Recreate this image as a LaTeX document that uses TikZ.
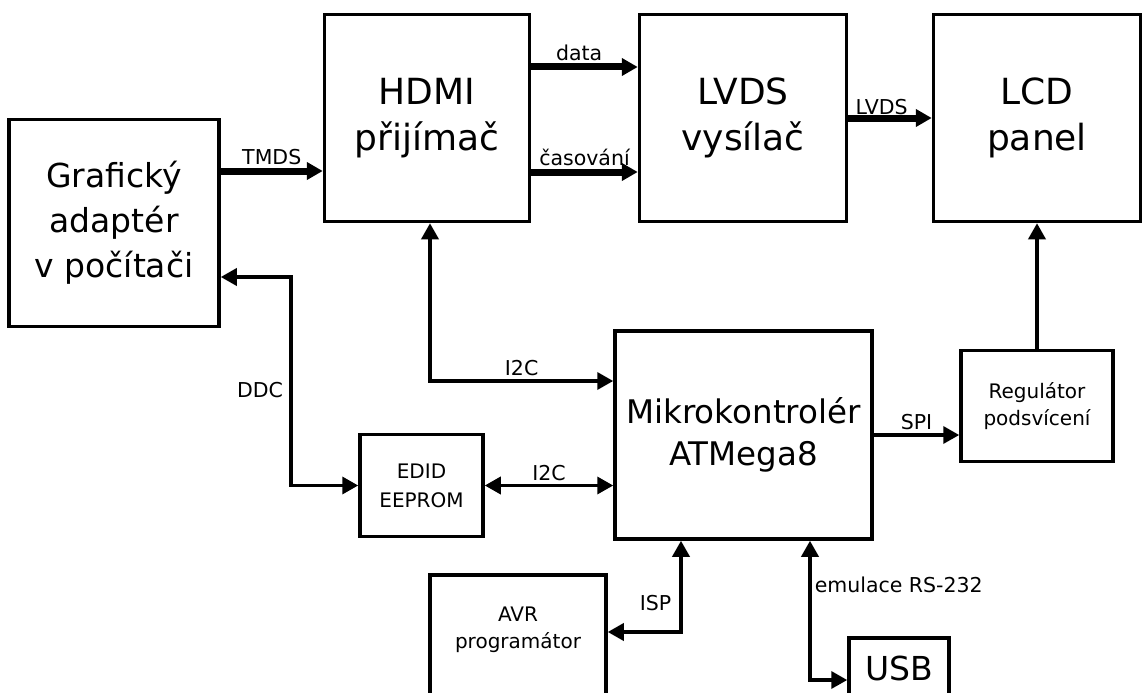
\documentclass[tikz,border=0pt]{standalone}
\usepackage{fontspec}
\setmainfont{DejaVu Sans}
\usetikzlibrary{arrows.meta,positioning}
\tikzset{
  blok/.style={rectangle, draw, line width=3.5pt, inner sep=0pt, align=center},
  velky/.style={font=\fontsize{36pt}{46pt}\selectfont},
  stredni/.style={font=\fontsize{20pt}{27pt}\selectfont},
  popis/.style={font=\fontsize{20.5pt}{24pt}\selectfont, inner sep=3pt},
  sbernice/.style={line width=7pt, ->},
  spoj/.style={line width=3.5pt}
}

\begin{document}
\begin{tikzpicture}[x=1pt, y=-1pt, >={Triangle[length=16pt,width=17pt]}]
  \useasboundingbox (0,0) rectangle (1143,693);

  \node[blok, minimum width=210pt, minimum height=207pt, font=\fontsize{33pt}{45pt}\selectfont]
    (graf) at (114,223) {Grafický\\adaptér\\v počítači};
  \node[blok, velky, minimum width=205pt, minimum height=207pt] (hdmi) at (427,118) {HDMI\\přijímač};
  \node[blok, velky, minimum width=207pt, minimum height=207pt] (lvds) at (743,118) {LVDS\\vysílač};
  \node[blok, velky, minimum width=207pt, minimum height=207pt] (lcd) at (1037,118) {LCD\\panel};
  \node[blok, minimum width=257pt, minimum height=208pt, font=\fontsize{32.5pt}{42pt}\selectfont]
    (mikro) at (743.5,435) {Mikrokontrolér\\ATMega8};
  \node[blok, stredni, minimum width=152pt, minimum height=111pt] (reg) at (1037,406) {Regulátor\\podsvícení};
  \node[blok, minimum width=123pt, minimum height=102pt, font=\fontsize{20pt}{29pt}\selectfont]
    (edid) at (421.5,485.5) {EDID\\EEPROM};
  \node[blok, minimum width=176pt, minimum height=140pt] (avr) at (518,645) {};
  \node[stredni, align=center] (avrtext) at (518,630) {AVR\\programátor};
  \node[blok, minimum width=100pt, minimum height=60pt, font=\fontsize{33pt}{40pt}\selectfont]
    (usb) at (899,668) {USB};

  \draw[sbernice] ([yshift=-53pt]hdmi.west -| graf.east) -- ([yshift=-53pt]hdmi.west)
    node[popis, midway, above] {TMDS};
  \draw[sbernice] ([yshift=51pt]hdmi.east) -- ([yshift=51pt]hdmi.east -| lvds.west)
    node[popis, pos=0.45, above] {data};
  \draw[sbernice] ([yshift=-54pt]hdmi.east) -- ([yshift=-54pt]hdmi.east -| lvds.west)
    node[popis, midway, above] {časování};
  \draw[sbernice] (lvds.east) -- (lcd.west)
    node[popis, pos=0.4, above, inner sep=0pt] {LVDS};

  \draw[spoj, <->] ([xshift=3pt]hdmi.south) |- ([yshift=54pt]mikro.west)
    node[popis, pos=0.75, above] {I2C};
  \draw[spoj, <->] ([yshift=-54pt]graf.east) -- ++(70,0) |- (edid.west)
    node[popis, pos=0.27, left, inner sep=6pt] {DDC};
  \draw[spoj, <->] (edid.east) -- (edid.east -| mikro.west)
    node[popis, midway, above] {I2C};
  \draw[spoj, ->] (mikro.east) -- (mikro.east -| reg.west)
    node[popis, midway, above] {SPI};
  \draw[spoj, ->] (reg.north) -- (lcd.south);
  \draw[spoj, <->] ([xshift=-62.5pt]mikro.south) |- ([yshift=13pt]avr.east)
    node[popis, pos=0.34, left, inner sep=8pt] {ISP};
  \draw[spoj, <->] ([xshift=66.5pt]mikro.south) |- ([yshift=-12pt]usb.west)
    node[popis, pos=0.16, right, inner sep=3pt] {emulace RS-232};
\end{tikzpicture}
\end{document}
